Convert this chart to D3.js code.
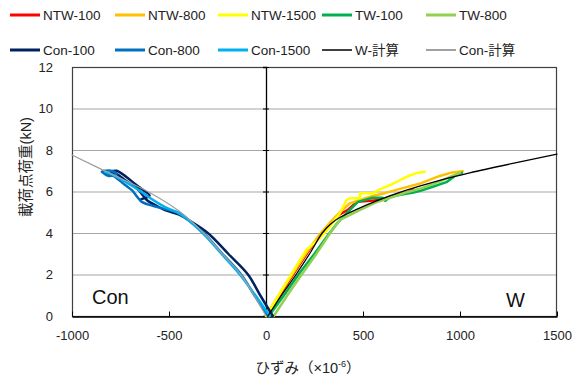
<!DOCTYPE html>
<html><head><meta charset="utf-8">
<script src="https://cdn.jsdelivr.net/npm/d3@7/dist/d3.min.js"></script>
<style>body{margin:0;background:#fff}svg{display:block}</style>
</head><body><svg id="c" width="587" height="378"></svg>
<script>
// ---- data (strain ×10^-6, load kN) ----
const ntw100 = [[0,0],[70,1],[140,2],[210,3],[270,3.8],[330,4.45],[380,4.9],[420,5.1],[468,5.5],[540,5.55],[604,5.6],[660,5.8],[724,5.95],[760,6.1]];
const ntw800 = [[0,0],[65,1],[135,2],[205,3],[270,3.85],[330,4.5],[380,5.0],[432,5.43],[480,5.58],[550,5.78],[612,5.92],[700,6.15],[800,6.4],[896,6.75],[960,6.92],[1014,6.98]];
const ntw1500 = [[0,0],[65,1],[130,2],[209,3.2],[278,3.74],[329,4.3],[381,4.95],[415,5.59],[432,5.67],[484,5.67],[484,5.91],[552,5.91],[578,6.07],[650,6.35],[724,6.71],[780,6.9],[818,6.95]];
const tw100 = [[15,0],[100,1.1],[175,2.1],[250,3.0],[320,3.9],[370,4.5],[420,5.0],[474,5.5],[550,5.7],[600,5.7],[615,5.55],[640,5.75],[700,5.85],[760,5.95],[800,6.05],[860,6.23],[930,6.45],[981,6.8],[1010,6.9]];
const tw800 = [[40,0],[110,1],[184,2],[260,3],[338,4.1],[381,4.63],[467,5.03],[560,5.45],[640,5.7],[720,5.95],[800,6.15],[900,6.5],[960,6.75],[1000,6.9]];
const con100 = [[35,0],[-30,1],[-93,2],[-195,3],[-300,4],[-395,4.6],[-440,4.85],[-520,5.1],[-571,5.35],[-610,5.55],[-660,6.1],[-720,6.5],[-770,6.85],[-800,6.95],[-770,7.0],[-720,6.7],[-660,6.25],[-600,5.8],[-620,5.7],[-645,5.62]];
const con800 = [[10,0],[-60,1],[-128,2],[-225,3],[-322,4],[-385,4.5],[-445,4.95],[-520,5.15],[-580,5.3],[-640,5.5],[-690,6.05],[-726,6.31],[-794,6.8],[-846,6.95],[-800,7.0],[-770,6.85],[-810,6.75],[-846,6.95]];
const con1500 = [[20,0],[-40,0.8],[-135,2],[-230,3],[-326,4],[-440,4.9],[-520,5.25],[-600,5.7],[-660,6.1],[-740,6.55],[-800,6.85],[-830,6.95]];
const wCalc = [[10,0],[80,1],[155,2],[225,3],[290,4],[335,4.45],[380,4.75],[470,5.15],[570,5.55],[720,6.05],[900,6.55],[1050,6.9],[1500,7.8]];
const conCalc = [[0,0],[-62,1],[-130,2],[-226,3],[-322,4],[-440,5],[-610,6],[-800,6.85],[-1000,7.76]];

const xTicks = [-1000,-500,0,500,1000,1500];
const yTicks = [0,2,4,6,8,10,12];

const seriesNames = ["NTW-100","NTW-800","NTW-1500","TW-100","TW-800","Con-100","Con-800","Con-1500","W-計算","Con-計算"];
const seriesData = [ntw100,ntw800,ntw1500,tw100,tw800,con100,con800,con1500,wCalc,conCalc];
const seriesColors = ["#ff0000","#ffc000","#ffff00","#00b050","#92d050","#002060","#0070c0","#00b0f0","#000000","#a0a0a0"];

// ---- drawing ----
const svg = d3.select("#c");
const L=72,R=557,T=67,B=316;
const x = d3.scaleLinear().domain([-1000,1500]).range([L,R]);
const y = d3.scaleLinear().domain([0,12]).range([B,T]);
const font = "'Liberation Sans', Arial, 'Noto Sans CJK JP', sans-serif";

// gridlines
svg.append("g").selectAll("line").data(yTicks.filter(d=>d>0)).join("line")
  .attr("x1",L).attr("x2",R).attr("y1",d=>y(d)+0.5).attr("y2",d=>y(d)+0.5)
  .attr("stroke","#a6a6a6").attr("stroke-width",1.2);

// border
svg.append("rect").attr("x",L+0.5).attr("y",T+0.5).attr("width",R-L-1).attr("height",B-T)
  .attr("fill","none").attr("stroke","#404040").attr("stroke-width",1.2);

// bottom axis (ticks inside)
const xAxis = d3.axisBottom(x).tickValues(xTicks).tickSizeInner(-5).tickSizeOuter(0).tickFormat(d3.format("d"));
const gx = svg.append("g").attr("transform",`translate(0,${B+0.5})`).call(xAxis);
gx.select(".domain").attr("stroke","#000").attr("stroke-width",1.3);
gx.selectAll(".tick line").attr("stroke","#000");
gx.selectAll("text").attr("font-family",font).attr("font-size",13).attr("fill","#222").attr("dy","1.55em")
  .text(d=>d3.format("d")(d).replace("−","-"));

// vertical axis at x=0 with cross ticks, labels at left
const yAxis = d3.axisLeft(y).tickValues(yTicks).tickSize(3).tickFormat("");
const gy = svg.append("g").attr("transform",`translate(${x(0)},0)`).call(yAxis);
gy.select(".domain").attr("stroke","#000").attr("stroke-width",1.3);
gy.selectAll(".tick line").attr("x1",3).attr("x2",-3).attr("stroke","#000");
svg.append("g").selectAll("text").data(yTicks).join("text")
  .attr("x",53).attr("y",d=>y(d)).attr("dy","0.35em").attr("text-anchor","end")
  .attr("font-family",font).attr("font-size",13).attr("fill","#222").text(d=>d);

// series
const lineStraight = d3.line().x(d=>x(d[0])).y(d=>y(d[1]));
const lineSmooth = d3.line().x(d=>x(d[0])).y(d=>y(d[1])).curve(d3.curveCatmullRom.alpha(0.5));
const plot = svg.append("g");
seriesData.forEach((s,i)=>{
  const calc = i>=8;
  const smooth = i>=5;
  plot.append("path").datum(s).attr("d",smooth?lineSmooth:lineStraight).attr("fill","none")
    .attr("stroke",seriesColors[i]).attr("stroke-width",calc?1.3:2.5)
    .attr("stroke-linejoin","round").attr("stroke-linecap","round");
});

// in-plot labels
svg.append("text").attr("x",92).attr("y",304).attr("font-family",font).attr("font-size",20).attr("fill","#111").text("Con");
svg.append("text").attr("x",506).attr("y",307).attr("font-family",font).attr("font-size",20).attr("fill","#111").text("W");

// axis titles
svg.append("text").attr("transform","translate(31,167) rotate(-90)").attr("text-anchor","middle")
  .attr("font-family",font).attr("font-size",14.5).attr("fill","#222").text("載荷点荷重(kN)");
const xt = svg.append("text").attr("x",308).attr("y",373).attr("text-anchor","middle")
  .attr("font-family",font).attr("font-size",14.5).attr("fill","#222");
xt.append("tspan").text("ひずみ（×10");
xt.append("tspan").attr("font-size",9).attr("dy",-6).text("-6");
xt.append("tspan").attr("dy",6).text("）");

// legend
const legX = [10,115,218,322,426];
const legY = [15,50];
const leg = svg.append("g");
seriesNames.forEach((n,i)=>{
  const lx = legX[i%5], ly = legY[Math.floor(i/5)];
  const calc = i>=8;
  leg.append("line").attr("x1",lx).attr("x2",lx+30).attr("y1",ly).attr("y2",ly)
    .attr("stroke",i===8?"#404040":seriesColors[i]).attr("stroke-width",calc?2:3);
  leg.append("text").attr("x",lx+33).attr("y",ly).attr("dy","0.36em")
    .attr("font-family",font).attr("font-size",13.5).attr("fill","#222").text(n);
});
</script></body></html>
